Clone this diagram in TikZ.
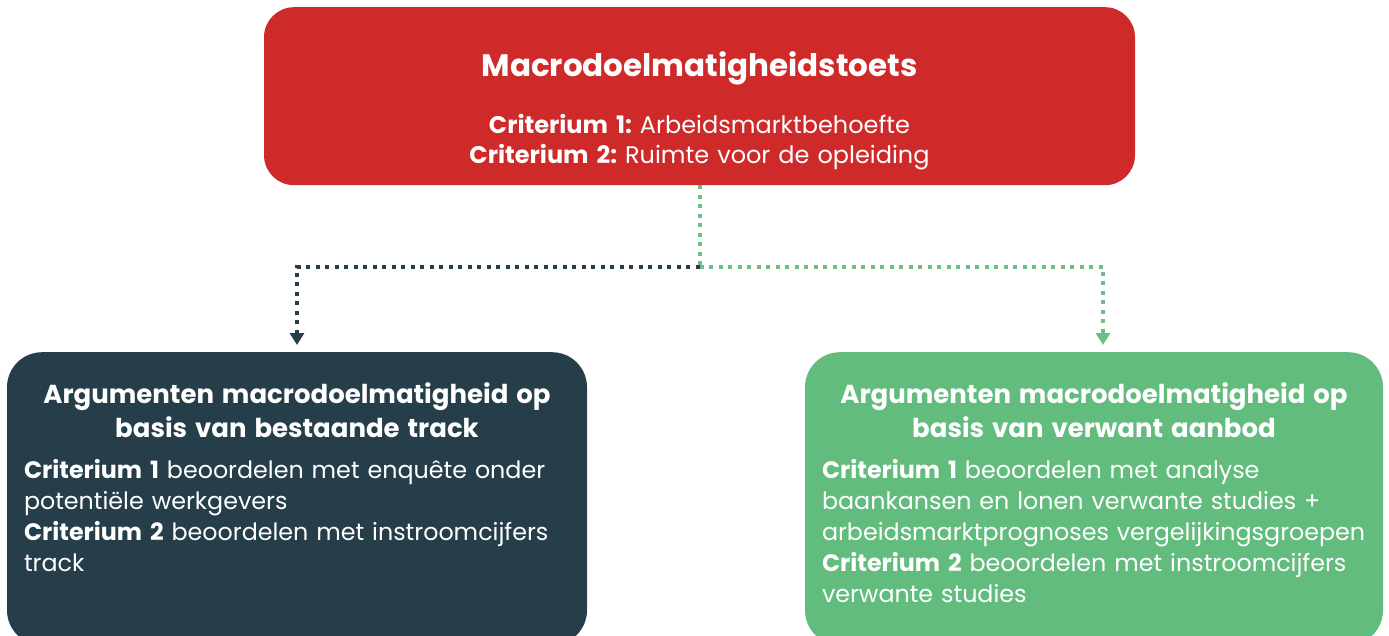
\documentclass[tikz,border=0pt]{standalone}
\usepackage{fontspec}
\setmainfont{Poppins}
\usepackage{tikz}
\usetikzlibrary{arrows.meta,positioning}
\definecolor{toetsred}{HTML}{CF2A2A}
\definecolor{trackslate}{HTML}{263E4A}
\definecolor{aanbodgreen}{HTML}{62BC7D}
\definecolor{dotgreen}{HTML}{6CBE87}
\frenchspacing

\begin{document}
\begin{tikzpicture}[x=1pt, y=-1pt,
  box/.style={rounded corners=35pt, text=white, inner sep=0pt, anchor=north},
  lowbox/.style={box, inner xsep=17pt, align=left, text height=51pt, text depth=242pt,
    font=\fontsize{23.8}{31}\selectfont},
  dotline/.style={line width=4pt, dash pattern=on 4pt off 5.5pt},
  tip/.style={-{Triangle[width=14pt,length=12pt]}}]
\useasboundingbox (0,0) rectangle (1389,636);

% --- Toets on top ---
\node[box, rounded corners=30pt, fill=toetsred, text width=871pt, align=center,
  text height=69pt, text depth=109pt, font=\fontsize{24}{30}\selectfont] (toets) at (699.5,7)
  {{\fontsize{31}{31}\selectfont\bfseries Macrodoelmatigheidstoets}\\[27pt]
   \textbf{Criterium 1:} Arbeidsmarktbehoefte\\
   \textbf{Criterium 2:} Ruimte voor de opleiding};

% --- Two routes ---
\node[lowbox, fill=trackslate, text width=546pt] (bestaand) at (297,352)
  {{\centering\bfseries\fontsize{26}{34}\selectfont Argumenten macrodoelmatigheid op\\
    basis van bestaande track\par}
   \vspace{10pt}
   \textbf{Criterium 1} beoordelen met enquête onder\\
   potentiële werkgevers\\
   \textbf{Criterium 2} beoordelen met instroomcijfers\\
   track};

\node[lowbox, fill=aanbodgreen, text width=544pt] (verwant) at (1094,352)
  {{\centering\bfseries\fontsize{26}{34}\selectfont Argumenten macrodoelmatigheid op\\
    basis van verwant aanbod\par}
   \vspace{10pt}
   \textbf{Criterium 1} beoordelen met analyse\\
   baankansen en lonen verwante studies +\\
   arbeidsmarktprognoses vergelijkingsgroepen\\
   \textbf{Criterium 2} beoordelen met instroomcijfers\\
   verwante studies};

% Dotted connectors
\coordinate (split) at (699.5,267);
\draw[dotline, dotgreen] (toets.south) -- (split);
\draw[dotline, trackslate, tip] (split) -| ([yshift=7pt]bestaand.north);
\draw[dotline, dotgreen, tip] (split) -| ([xshift=9pt,yshift=7pt]verwant.north);
\end{tikzpicture}
\end{document}
